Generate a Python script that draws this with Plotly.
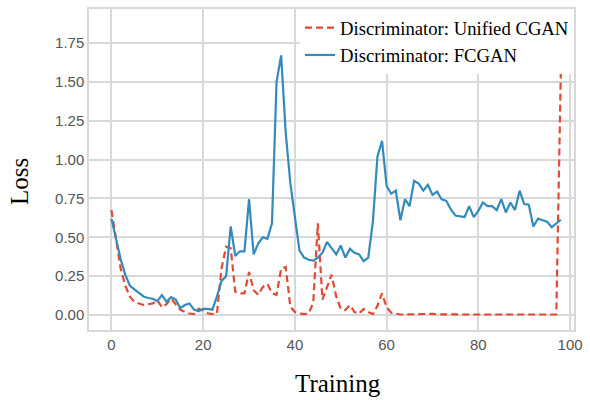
import plotly.graph_objects as go

# Training step indices
steps_fcgan = list(range(0, 99))
steps_unified = list(range(0, 99))

# Discriminator loss: FCGAN (blue, solid)
loss_fcgan = [
    0.62, 0.48, 0.36, 0.26, 0.19, 0.165, 0.14, 0.12, 0.11, 0.105,
    0.09, 0.128, 0.085, 0.115, 0.10, 0.045, 0.065, 0.075, 0.035, 0.025,
    0.04, 0.04, 0.035, 0.12, 0.22, 0.25, 0.57, 0.38, 0.41, 0.41,
    0.745, 0.39, 0.46, 0.50, 0.49, 0.59, 1.50, 1.67, 1.17, 0.85,
    0.63, 0.415, 0.37, 0.356, 0.35, 0.37, 0.40, 0.47, 0.43, 0.39,
    0.447, 0.37, 0.426, 0.40, 0.39, 0.347, 0.37, 0.60, 1.02, 1.12,
    0.83, 0.78, 0.80, 0.61, 0.745, 0.70, 0.863, 0.845, 0.80, 0.837,
    0.773, 0.794, 0.745, 0.735, 0.68, 0.64, 0.635, 0.63, 0.70, 0.63,
    0.67, 0.724, 0.70, 0.70, 0.675, 0.745, 0.66, 0.724, 0.675, 0.80,
    0.714, 0.71, 0.57, 0.62, 0.61, 0.60, 0.565, 0.59, 0.613,
]

# Discriminator loss: Unified CGAN (red, dashed)
loss_unified = [
    0.675, 0.50, 0.30, 0.19, 0.12, 0.085, 0.075, 0.065, 0.07, 0.075,
    0.096, 0.05, 0.07, 0.107, 0.07, 0.035, 0.02, 0.01, 0.006, 0.04,
    0.03, 0.012, 0.006, 0.01, 0.30, 0.44, 0.43, 0.15, 0.14, 0.14,
    0.277, 0.16, 0.13, 0.18, 0.20, 0.14, 0.13, 0.30, 0.31, 0.055,
    0.02, 0.01, 0.006, 0.01, 0.08, 0.59, 0.10, 0.18, 0.26, 0.12,
    0.04, 0.032, 0.064, 0.02, 0.01, 0.04, 0.02, 0.006, 0.06, 0.14,
    0.05, 0.015, 0.008, 0.004, 0.004, 0.005, 0.004, 0.004, 0.005, 0.006,
    0.008, 0.005, 0.004, 0.004, 0.004, 0.004, 0.004, 0.004, 0.004, 0.004,
    0.004, 0.004, 0.004, 0.004, 0.004, 0.004, 0.004, 0.004, 0.004, 0.004,
    0.004, 0.004, 0.004, 0.004, 0.004, 0.004, 0.004, 0.004, 1.58,
]

x_ticks = [0, 20, 40, 60, 80, 100]
y_ticks = [0.00, 0.25, 0.50, 0.75, 1.00, 1.25, 1.50, 1.75]
y_tick_labels = ["0.00", "0.25", "0.50", "0.75", "1.00", "1.25", "1.50", "1.75"]

names = ["Discriminator: Unified CGAN", "Discriminator: FCGAN"]

fig = go.Figure()
fig.add_trace(go.Scatter(
    x=steps_unified, y=loss_unified, mode="lines", name=names[0],
    line=dict(color="#E24A33", width=2.2, dash="7px,4px"),
))
fig.add_trace(go.Scatter(
    x=steps_fcgan, y=loss_fcgan, mode="lines", name=names[1],
    line=dict(color="#348ABD", width=2.2),
))

grid = "#d8d8d8"
tickfont = dict(family="Liberation Sans, Arial, sans-serif", size=15, color="#555555")

fig.update_layout(
    width=590, height=400,
    margin=dict(l=89, r=10, t=7, b=70),
    paper_bgcolor="white", plot_bgcolor="white",
    showlegend=True,
    legend=dict(
        x=1.0, y=1.0, xanchor="right", yanchor="top",
        bgcolor="white", borderwidth=0,
        font=dict(family="Liberation Serif, Times New Roman, serif", size=18.7, color="black"),
        tracegroupgap=0, itemwidth=30,
    ),
    xaxis=dict(
        range=[-4.9, 100.86], tickvals=x_ticks, ticktext=[str(v) for v in x_ticks],
        showgrid=True, gridcolor=grid, gridwidth=1.5, zeroline=False,
        showline=True, linecolor=grid, linewidth=1.5, mirror=True,
        ticks="", tickfont=tickfont,
    ),
    yaxis=dict(
        range=[-0.0958, 1.968], tickvals=y_ticks, ticktext=y_tick_labels,
        showgrid=True, gridcolor=grid, gridwidth=1.5, zeroline=False,
        showline=True, linecolor=grid, linewidth=1.5, mirror=True,
        ticks="", tickfont=tickfont,
    ),
    annotations=[
        dict(text="Training", xref="paper", yref="paper", x=0.5, y=0,
             xanchor="center", yanchor="middle", xshift=6, yshift=-53,
             showarrow=False,
             font=dict(family="Liberation Serif, Times New Roman, serif", size=25, color="black")),
        dict(text="Loss", xref="paper", yref="paper", x=-0.1446, y=0.464,
             xanchor="center", yanchor="middle", textangle=-90,
             showarrow=False,
             font=dict(family="Liberation Serif, Times New Roman, serif", size=25, color="black")),
    ],
)

fig.write_html("out.html")
